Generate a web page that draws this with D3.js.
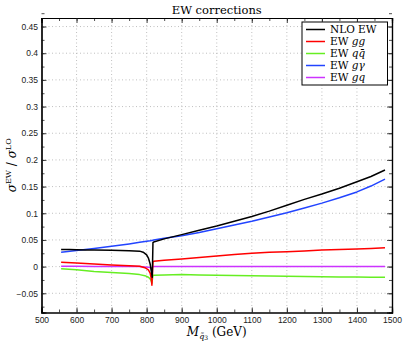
<!DOCTYPE html>
<html>
<head>
<meta charset="utf-8">
<script src="https://cdn.jsdelivr.net/npm/d3@7"></script>
<style>
  body { margin: 0; background: #fff; }
  svg { display: block; }
</style>
</head>
<body>
<script>
// data
let massNLO = [556, 580, 600, 625, 650, 700, 750, 780, 790, 800, 805, 810, 813, 816, 818, 820, 850, 900, 950, 1000, 1050, 1100, 1150, 1200, 1250, 1300, 1350, 1400, 1440, 1480]
let nloEW   = [0.032, 0.032, 0.0315, 0.031, 0.031, 0.0305, 0.0298, 0.029, 0.027, 0.022, 0.016, 0.005, -0.008, -0.020, 0.045, 0.046, 0.052, 0.060, 0.068, 0.076, 0.085, 0.094, 0.104, 0.115, 0.126, 0.136, 0.147, 0.159, 0.169, 0.181]

let massSub = [556, 600, 650, 700, 750, 780, 795, 805, 810, 813, 815, 818, 820, 850, 900, 950, 1000, 1050, 1100, 1150, 1200, 1250, 1300, 1350, 1400, 1440, 1480]
let ewGG    = [0.008, 0.007, 0.005, 0.003, 0.0015, 0.0005, -0.002, -0.006, -0.012, -0.022, -0.035, 0.009, 0.010, 0.012, 0.0145, 0.017, 0.020, 0.0225, 0.025, 0.027, 0.028, 0.0295, 0.031, 0.032, 0.033, 0.034, 0.0355]
let ewQQbar = [-0.004, -0.006, -0.009, -0.011, -0.013, -0.015, -0.017, -0.020, -0.023, -0.027, -0.031, -0.016, -0.016, -0.0155, -0.015, -0.0155, -0.016, -0.0165, -0.017, -0.0175, -0.018, -0.0185, -0.019, -0.0193, -0.0196, -0.0198, -0.020]
let ewGA    = [0.027, 0.030, 0.034, 0.038, 0.0425, 0.0455, 0.047, 0.048, 0.0485, 0.049, 0.049, 0.0495, 0.0497, 0.053, 0.058, 0.064, 0.071, 0.078, 0.085, 0.093, 0.101, 0.110, 0.119, 0.129, 0.140, 0.151, 0.164]
let ewGQ    = [0.0005, 0.0005, 0.0004, 0.0003, 0.0002, 0.0, -0.0005, -0.001, -0.0015, -0.002, -0.003, 0.0, 0.0, 0.0, 0.0, 0.0, 0.0, 0.0, 0.0, 0.0, 0.0, 0.0, 0.0, 0.0, 0.0, 0.0, 0.0]

let xTicks = [500, 600, 700, 800, 900, 1000, 1100, 1200, 1300, 1400, 1500]
let yTicks = [-0.05, 0, 0.05, 0.1, 0.15, 0.2, 0.25, 0.3, 0.35, 0.4, 0.45]

let W = 403, H = 343
let pLeft = 41.5, pRight = 392, pTop = 18, pBottom = 312.5

let svg = d3.select('body').append('svg')
    .attr('width', W)
    .attr('height', H)

let x = d3.scaleLinear().domain([500, 1500]).range([pLeft, pRight])
let y = d3.scaleLinear().domain([-0.086, 0.466]).range([pBottom, pTop])

// grid
svg.append('g')
    .selectAll('line')
    .data(xTicks.slice(1, -1))
    .join('line')
    .attr('x1', d => x(d)).attr('x2', d => x(d))
    .attr('y1', pTop).attr('y2', pBottom)
    .attr('stroke', '#b0b0b0')
    .attr('stroke-width', 0.8)
    .attr('stroke-dasharray', '1,2.5')
svg.append('g')
    .selectAll('line')
    .data(yTicks)
    .join('line')
    .attr('x1', pLeft).attr('x2', pRight)
    .attr('y1', d => y(d)).attr('y2', d => y(d))
    .attr('stroke', '#b0b0b0')
    .attr('stroke-width', 0.8)
    .attr('stroke-dasharray', '1,2.5')

// axes, ticks inward on all four sides
let fmt = d => d === 0 ? '0' : d3.format('')(d).replace('-', '\u2212')
let xMinor = d3.range(500, 1501, 50)
let yMinor = d3.range(-0.075, 0.4751, 0.025)

svg.append('g')
    .attr('transform', `translate(0,${pBottom})`)
    .call(d3.axisBottom(x).tickValues(xMinor).tickSize(-3).tickFormat(''))
svg.append('g')
    .attr('transform', `translate(0,${pBottom})`)
    .call(d3.axisBottom(x).tickValues(xTicks).tickSize(-5).tickPadding(4).tickFormat(d3.format('')))
svg.append('g')
    .attr('transform', `translate(0,${pTop})`)
    .call(d3.axisTop(x).tickValues(xMinor).tickSize(-3).tickFormat(''))
svg.append('g')
    .attr('transform', `translate(0,${pTop})`)
    .call(d3.axisTop(x).tickValues(xTicks).tickSize(-5).tickFormat(''))
svg.append('g')
    .attr('transform', `translate(${pLeft},0)`)
    .call(d3.axisLeft(y).tickValues(yMinor).tickSize(-3).tickFormat(''))
svg.append('g')
    .attr('transform', `translate(${pLeft},0)`)
    .call(d3.axisLeft(y).tickValues(yTicks).tickSize(-5).tickPadding(3.5).tickFormat(fmt))
svg.append('g')
    .attr('transform', `translate(${pRight},0)`)
    .call(d3.axisRight(y).tickValues(yMinor).tickSize(-3).tickFormat(''))
svg.append('g')
    .attr('transform', `translate(${pRight},0)`)
    .call(d3.axisRight(y).tickValues(yTicks).tickSize(-5).tickFormat(''))

svg.selectAll('.domain').attr('stroke', '#000').attr('stroke-width', 1.2)
svg.selectAll('.tick line').attr('stroke', '#222').attr('stroke-width', 0.8)
svg.selectAll('.tick text')
    .attr('font-family', 'Liberation Sans, Arial, sans-serif')
    .attr('font-size', 8.5)
    .attr('fill', '#222')

// curves
let series = [
    { xs: massSub, ys: ewGQ,    color: '#cc33ff' },
    { xs: massSub, ys: ewQQbar, color: '#66ee22' },
    { xs: massSub, ys: ewGG,    color: '#ff0000' },
    { xs: massSub, ys: ewGA,    color: '#2244ff' },
    { xs: massNLO, ys: nloEW,   color: '#000000' }
]
let line = d3.line().x(d => x(d[0])).y(d => y(d[1]))
series.forEach(s => {
    svg.append('path')
        .datum(d3.zip(s.xs, s.ys))
        .attr('d', line)
        .attr('fill', 'none')
        .attr('stroke', s.color)
        .attr('stroke-width', 1.5)
        .attr('stroke-linejoin', 'round')
})

// title
svg.append('text')
    .attr('x', (pLeft + pRight) / 2)
    .attr('y', 13.5)
    .attr('text-anchor', 'middle')
    .attr('font-family', 'DejaVu Serif, serif')
    .attr('font-size', 11.5)
    .text('EW corrections')

// x label
let xl = svg.append('text')
    .attr('x', (pLeft + pRight) / 2)
    .attr('y', 336)
    .attr('text-anchor', 'middle')
    .attr('font-family', 'DejaVu Serif, serif')
    .attr('font-size', 12)
xl.append('tspan').attr('font-style', 'italic').text('M')
xl.append('tspan').attr('font-style', 'italic').attr('font-size', 8).attr('dy', 2.5).text('q\u0303')
xl.append('tspan').attr('font-size', 6).attr('dy', 1.5).text('3')
xl.append('tspan').attr('dy', -4).text(' (GeV)')

// y label
let yl = svg.append('text')
    .attr('transform', `translate(16,${(pTop + pBottom) / 2}) rotate(-90)`)
    .attr('text-anchor', 'middle')
    .attr('font-family', 'DejaVu Serif, serif')
    .attr('font-size', 12)
yl.append('tspan').attr('font-style', 'italic').text('\u03c3')
yl.append('tspan').attr('font-size', 8).attr('dy', -5).text('EW')
yl.append('tspan').attr('dy', 5).text(' / ')
yl.append('tspan').attr('font-style', 'italic').text('\u03c3')
yl.append('tspan').attr('font-size', 8).attr('dy', -5).text('LO')

// legend
let legNames = [['NLO EW', ''], ['EW ', 'gg'], ['EW ', 'q\u0071\u0304'], ['EW ', 'g\u03b3'], ['EW ', 'gq']]
let legColors = ['#000000', '#ff0000', '#66ee22', '#2244ff', '#cc33ff']
let lg = svg.append('g')
lg.append('rect')
    .attr('x', 302).attr('y', 22)
    .attr('width', 85.5).attr('height', 63)
    .attr('fill', '#fff')
    .attr('stroke', '#000')
    .attr('stroke-width', 1)
legNames.forEach((n, i) => {
    let yy = 29.5 + i * 12
    lg.append('line')
        .attr('x1', 306).attr('x2', 325)
        .attr('y1', yy).attr('y2', yy)
        .attr('stroke', legColors[i])
        .attr('stroke-width', 1.5)
    let t = lg.append('text')
        .attr('x', 330).attr('y', yy + 3.5)
        .attr('font-family', 'DejaVu Serif, serif')
        .attr('font-size', 10.5)
    t.append('tspan').text(n[0])
    if (n[1]) t.append('tspan').attr('font-style', 'italic').text(n[1])
})
</script>
</body>
</html>
